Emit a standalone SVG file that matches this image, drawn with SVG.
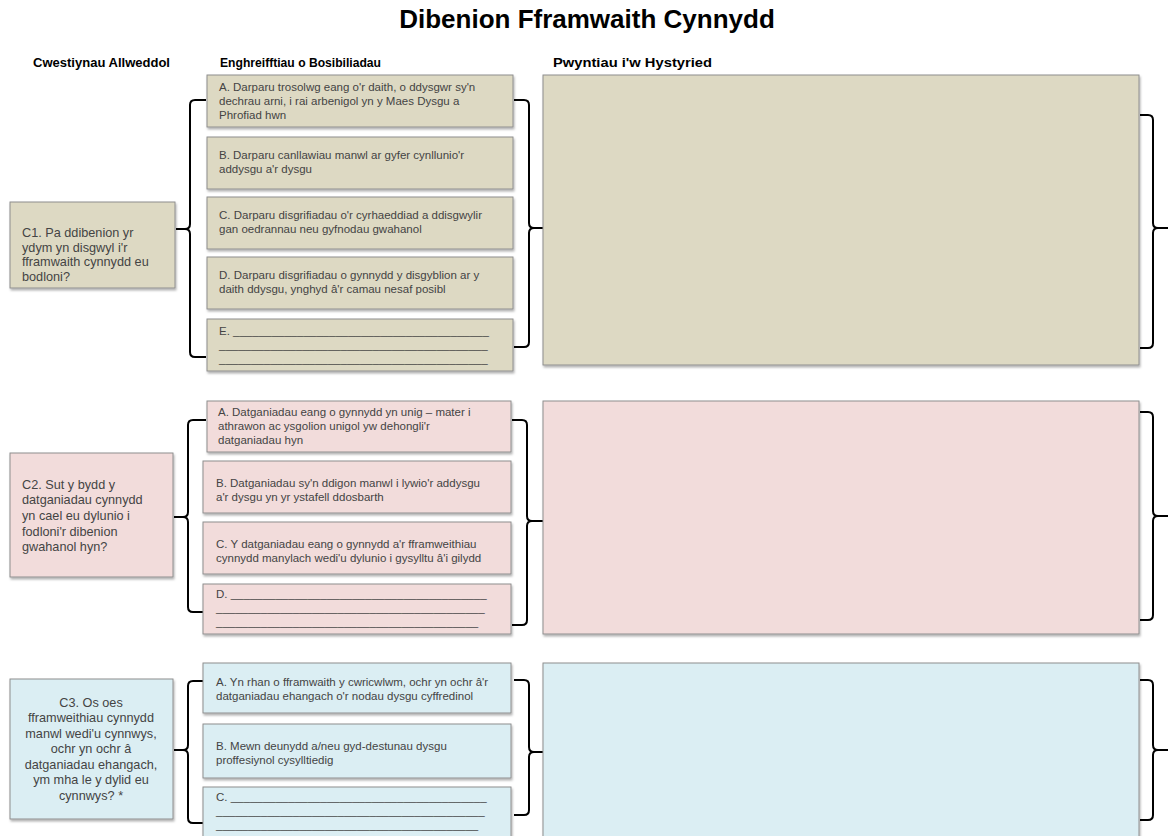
<svg xmlns="http://www.w3.org/2000/svg" width="1168" height="836" viewBox="0 0 1168 836">
<defs>
<filter id="sh" x="-5%" y="-5%" width="110%" height="115%">
<feDropShadow dx="1" dy="2" stdDeviation="1" flood-color="#000" flood-opacity="0.3"/>
</filter>
</defs>
<style>
.b1{fill:#DDD9C3;stroke:#8E8E8E;stroke-width:1;filter:url(#sh)}
.b2{fill:#F2DCDB;stroke:#8E8E8E;stroke-width:1;filter:url(#sh)}
.b3{fill:#DBEEF3;stroke:#8E8E8E;stroke-width:1;filter:url(#sh)}
.t{font-family:"Liberation Sans",Arial,sans-serif;font-size:11.5px;fill:#444}
.q{font-family:"Liberation Sans",Arial,sans-serif;font-size:12.7px;fill:#444}
.h{font-family:"Liberation Sans",Arial,sans-serif;font-size:12.5px;font-weight:bold;fill:#000}
.title{font-family:"Liberation Sans",Arial,sans-serif;font-size:26px;font-weight:bold;fill:#000}
.br{fill:none;stroke:#000;stroke-width:2}
</style>
<rect width="1168" height="836" fill="#fff"/>
<text class="title" x="587" y="28" text-anchor="middle">Dibenion Fframwaith Cynnydd</text>
<text class="h" x="33" y="67" textLength="137" lengthAdjust="spacingAndGlyphs">Cwestiynau Allweddol</text>
<text class="h" x="220" y="67" textLength="161" lengthAdjust="spacingAndGlyphs">Enghreifftiau o Bosibiliadau</text>
<text class="h" x="553" y="67" textLength="159" lengthAdjust="spacingAndGlyphs">Pwyntiau i'w Hystyried</text>

<g id="connectors">
<path class="br" d="M206,100 H195 Q190,100 190,105 V224 Q190,229 185,229 H176 M185,229 Q190,229 190,234 V352 Q190,357 195,357 H206"/>
<path class="br" d="M514,100 H524 Q529,100 529,105 V223 Q529,228 534,228 H543 M534,228 Q529,228 529,233 V342 Q529,347 524,347 H514"/>
<path class="br" d="M1140,115 H1148 Q1153,115 1153,120 V223 Q1153,228 1158,228 H1168 M1158,228 Q1153,228 1153,233 V343 Q1153,348 1148,348 H1140"/>

<path class="br" d="M206,420 H193 Q188,420 188,425 V512 Q188,517 183,517 H174 M183,517 Q188,517 188,522 V607 Q188,612 193,612 H203"/>
<path class="br" d="M512,420 H522 Q527,420 527,425 V516 Q527,521 532,521 H543 M532,521 Q527,521 527,526 V620 Q527,625 522,625 H512"/>
<path class="br" d="M1140,412 H1148 Q1153,412 1153,417 V511 Q1153,516 1158,516 H1168 M1158,516 Q1153,516 1153,521 V615 Q1153,620 1148,620 H1140"/>

<path class="br" d="M203,681 H193 Q188,681 188,686 V745 Q188,750 183,750 H174 M183,750 Q188,750 188,755 V818 Q188,823 193,823 H203"/>
<path class="br" d="M514,680 H524 Q529,680 529,685 V747 Q529,752 534,752 H544 M534,752 Q529,752 529,757 V810 Q529,815 524,815 H514"/>
<path class="br" d="M1140,680 H1148 Q1153,680 1153,685 V745 Q1153,750 1158,750 H1168 M1158,750 Q1153,750 1153,755 V815 Q1153,820 1148,820 H1140"/>
</g>

<g id="c1">
<rect class="b1" x="10" y="202" width="165" height="86"/>
<text class="q" x="22" y="237">C1. Pa ddibenion yr</text>
<text class="q" x="22" y="252">ydym yn disgwyl i'r</text>
<text class="q" x="22" y="266">fframwaith cynnydd eu</text>
<text class="q" x="22" y="281">bodloni?</text>
</g>
<g id="c1a">
<rect class="b1" x="207" y="75" width="306" height="52"/>
<text class="t" x="219" y="91">A. Darparu trosolwg eang o'r daith, o ddysgwr sy'n</text>
<text class="t" x="219" y="105">dechrau arni, i rai arbenigol yn y Maes Dysgu a</text>
<text class="t" x="219" y="119">Phrofiad hwn</text>
</g>
<g id="c1b">
<rect class="b1" x="207" y="137" width="306" height="52"/>
<text class="t" x="219" y="159">B. Darparu canllawiau manwl  ar gyfer cynllunio'r</text>
<text class="t" x="219" y="173">addysgu a'r dysgu</text>
</g>
<g id="c1c">
<rect class="b1" x="207" y="197" width="306" height="52"/>
<text class="t" x="219" y="219">C. Darparu disgrifiadau o'r cyrhaeddiad a ddisgwylir</text>
<text class="t" x="219" y="233">gan oedrannau neu gyfnodau gwahanol</text>
</g>
<g id="c1d">
<rect class="b1" x="207" y="257" width="306" height="52"/>
<text class="t" x="219" y="279">D. Darparu disgrifiadau o gynnydd y disgyblion ar y</text>
<text class="t" x="219" y="293">daith ddysgu, ynghyd â'r camau nesaf posibl</text>
</g>
<g id="c1e">
<rect class="b1" x="207" y="319" width="306" height="52"/>
<text class="t" x="219" y="335">E. ________________________________________</text>
<text class="t" x="219" y="349">__________________________________________</text>
<text class="t" x="219" y="363">__________________________________________</text>
</g>
<g id="c1p">
<rect class="b1" x="543" y="75" width="596" height="290"/>
</g>

<g id="c2">
<rect class="b2" x="10" y="453" width="163" height="124"/>
<text class="q" x="22" y="489">C2. Sut y bydd y</text>
<text class="q" x="22" y="504">datganiadau cynnydd</text>
<text class="q" x="22" y="520">yn cael eu dylunio i</text>
<text class="q" x="22" y="536">fodloni'r dibenion</text>
<text class="q" x="22" y="551">gwahanol hyn?</text>
</g>
<g id="c2a">
<rect class="b2" x="207" y="401" width="304" height="51"/>
<text class="t" x="218" y="416">A. Datganiadau eang o gynnydd yn unig – mater i</text>
<text class="t" x="218" y="430">athrawon ac ysgolion unigol yw dehongli'r</text>
<text class="t" x="218" y="444">datganiadau hyn</text>
</g>
<g id="c2b">
<rect class="b2" x="203" y="461" width="308" height="52"/>
<text class="t" x="216" y="487">B. Datganiadau sy'n ddigon manwl  i lywio'r addysgu</text>
<text class="t" x="216" y="501">a'r dysgu yn yr ystafell ddosbarth</text>
</g>
<g id="c2c">
<rect class="b2" x="203" y="522" width="308" height="52"/>
<text class="t" x="216" y="548">C. Y datganiadau eang o gynnydd a'r fframweithiau</text>
<text class="t" x="216" y="562">cynnydd manylach wedi'u dylunio i gysylltu â'i gilydd</text>
</g>
<g id="c2d">
<rect class="b2" x="203" y="584" width="308" height="50"/>
<text class="t" x="216" y="598">D. ________________________________________</text>
<text class="t" x="216" y="612">__________________________________________</text>
<text class="t" x="216" y="626">_________________________________________</text>
</g>
<g id="c2p">
<rect class="b2" x="543" y="401" width="596" height="233"/>
</g>

<g id="c3">
<rect class="b3" x="10" y="679" width="163" height="140"/>
<text class="q" x="91" y="707" text-anchor="middle">C3. Os oes</text>
<text class="q" x="91" y="722" text-anchor="middle">fframweithiau cynnydd</text>
<text class="q" x="91" y="738" text-anchor="middle">manwl wedi'u cynnwys,</text>
<text class="q" x="91" y="753" text-anchor="middle">ochr yn ochr â</text>
<text class="q" x="91" y="769" text-anchor="middle">datganiadau ehangach,</text>
<text class="q" x="91" y="784" text-anchor="middle">ym mha le y dylid eu</text>
<text class="q" x="91" y="800" text-anchor="middle">cynnwys? *</text>
</g>
<g id="c3a">
<rect class="b3" x="203" y="663" width="308" height="50"/>
<text class="t" x="216" y="686">A. Yn rhan o fframwaith  y cwricwlwm, ochr yn ochr â'r</text>
<text class="t" x="216" y="700">datganiadau ehangach o'r nodau dysgu cyffredinol</text>
</g>
<g id="c3b">
<rect class="b3" x="203" y="724" width="308" height="54"/>
<text class="t" x="216" y="750">B. Mewn  deunydd a/neu gyd-destunau dysgu</text>
<text class="t" x="216" y="764">proffesiynol cysylltiedig</text>
</g>
<g id="c3c">
<rect class="b3" x="203" y="787" width="308" height="60"/>
<text class="t" x="216" y="801">C. ________________________________________</text>
<text class="t" x="216" y="815">__________________________________________</text>
<text class="t" x="216" y="829">_________________________________________</text>
</g>
<g id="c3p">
<rect class="b3" x="543" y="663" width="596" height="190"/>
</g>
</svg>
